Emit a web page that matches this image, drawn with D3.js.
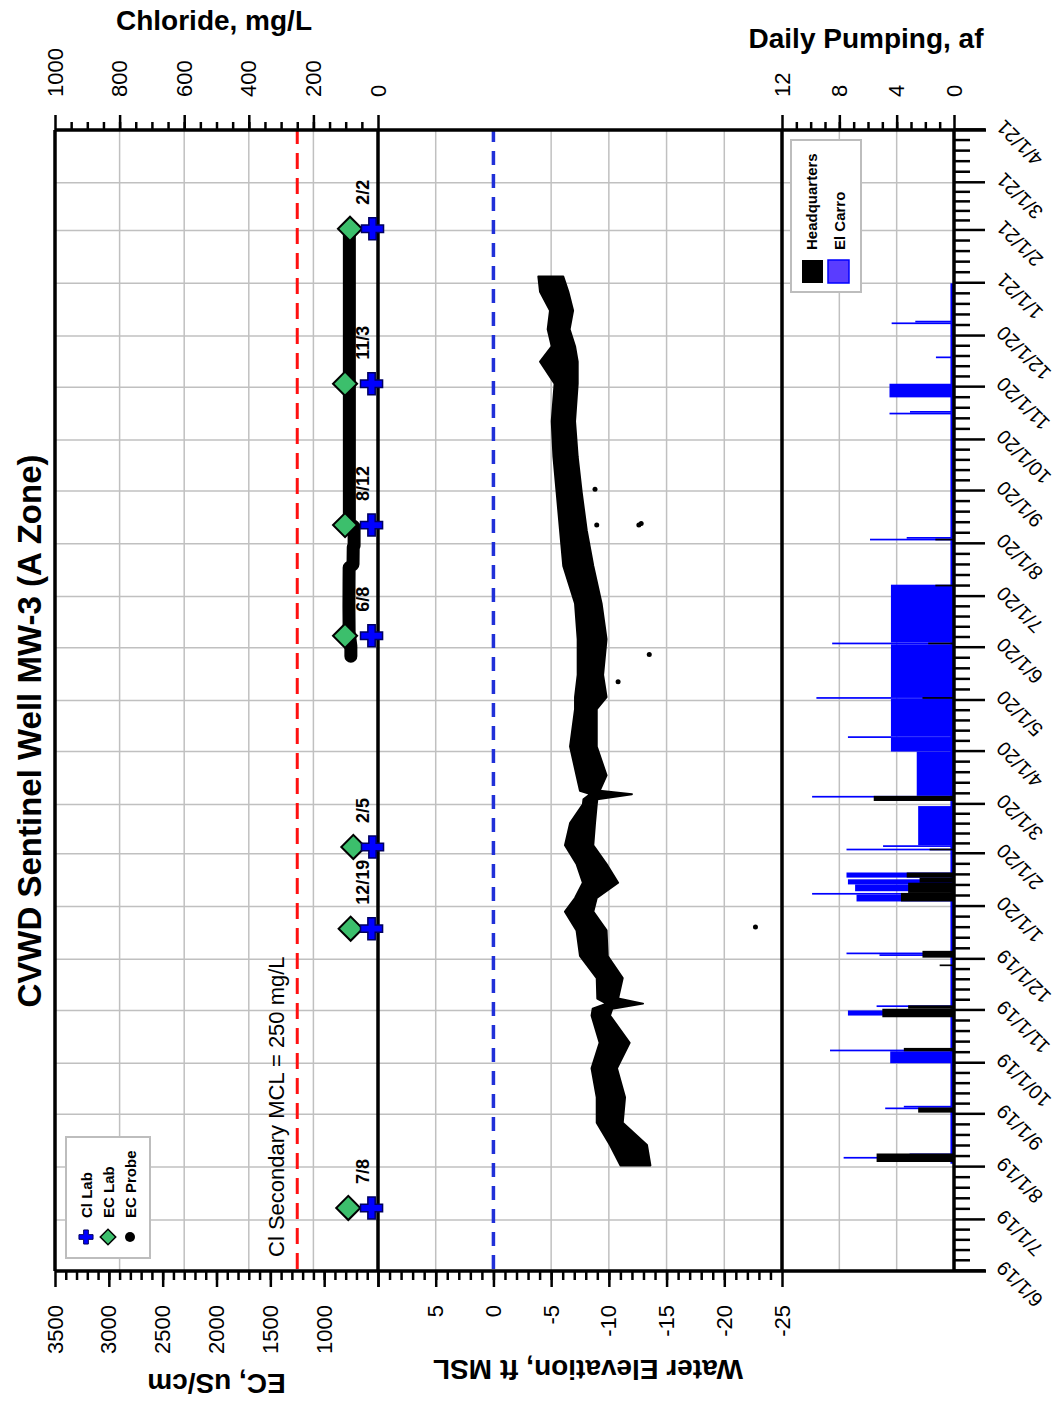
<!DOCTYPE html>
<html>
<head>
<meta charset="utf-8">
<script src="https://cdn.jsdelivr.net/npm/d3@7"></script>
<style>
  body { margin: 0; background: #fff; }
  svg { display: block; font-family: "Liberation Sans", Arial, sans-serif; }
</style>
</head>
<body>
<div id="chart"></div>
<script>
const parse = d3.utcParse("%Y-%m-%d");

// Lab samples (Cl and EC)
const labDates = ["2019-07-08", "2019-12-19", "2020-02-05", "2020-06-08", "2020-08-12", "2020-11-03", "2021-02-02"];
const labLabels = ["7/8", "12/19", "2/5", "6/8", "8/12", "11/3", "2/2"];
const ecLab = [776, 754, 729, 806, 806, 806, 760];
const clLab = [20, 20, 17, 20, 20, 20, 17];
const clMcl = 250;

// EC probe
const ecProbeDates = ["2020-05-27", "2020-06-02", "2020-06-10", "2020-06-25", "2020-07-10", "2020-07-18", "2020-07-20",
  "2020-07-30", "2020-07-31", "2020-08-11", "2020-08-13", "2020-09-15", "2020-10-15", "2020-11-15", "2020-12-15",
  "2021-01-15", "2021-01-31"];
const ecProbe = [752, 752, 768, 770, 769, 768, 732, 730, 722, 722, 766, 766, 766, 766, 766, 766, 766];

// Water elevation, daily high / low envelope
const wlDates = ["2019-08-02", "2019-08-14", "2019-08-27", "2019-09-11", "2019-09-28", "2019-10-13", "2019-10-29",
  "2019-11-02", "2019-11-05", "2019-11-08", "2019-11-20", "2019-12-03", "2019-12-18", "2019-12-29", "2020-01-06",
  "2020-01-15", "2020-01-26", "2020-02-06", "2020-02-19", "2020-03-01", "2020-03-04", "2020-03-07", "2020-03-09",
  "2020-03-18", "2020-04-04", "2020-04-26", "2020-05-03", "2020-05-16", "2020-06-06", "2020-06-27", "2020-07-19",
  "2020-08-09", "2020-08-31", "2020-09-21", "2020-10-12", "2020-11-03", "2020-11-16", "2020-11-25", "2020-12-05",
  "2020-12-16", "2020-12-27", "2021-01-05"];
const wlHigh = [-11.0, -10.1, -8.95, -8.95, -8.5, -9.2, -8.5, -8.6, -9.8, -9.0, -8.95, -7.5, -7.2, -6.2, -7.07,
  -7.75, -7.2, -6.2, -6.64, -7.75, -7.8, -8.4, -7.5, -7.2, -6.64, -7.07, -7.07, -7.3, -7.3, -7.07, -6.05,
  -5.77, -5.48, -5.2, -5.05, -5.3, -4.04, -5.05, -4.7, -4.9, -4.04, -3.89];
const wlLow = [-13.6, -13.3, -11.2, -11.4, -10.7, -11.8, -10.1, -10.3, -12.96, -10.8, -11.2, -9.9, -9.8, -8.65, -8.95,
  -10.8, -9.8, -8.65, -8.8, -8.95, -9.0, -12.0, -9.2, -9.8, -8.95, -8.95, -9.8, -9.5, -9.8, -9.37, -8.65,
  -8.08, -7.65, -7.3, -7.07, -7.3, -7.3, -7.07, -6.6, -6.9, -6.49, -6.05];
const wlOddDates = ["2020-09-02", "2020-08-12", "2020-08-12", "2020-08-13", "2020-05-28", "2020-05-12", "2019-12-20"];
const wlOdd = [-8.8, -8.95, -12.6, -12.8, -13.5, -10.8, -22.7];

// Daily pumping, af (periods of steady pumping: start, end, value)
const carroStart = ["2019-08-03", "2019-08-06", "2019-08-08", "2019-09-04", "2019-09-05", "2019-10-01", "2019-10-08",
  "2019-10-29", "2019-11-03", "2019-12-03", "2019-12-04", "2020-01-04", "2020-01-08", "2020-01-10", "2020-01-14",
  "2020-01-18", "2020-02-03", "2020-02-05", "2020-02-06", "2020-03-03", "2020-03-05", "2020-03-06", "2020-04-01",
  "2020-04-09", "2020-04-10", "2020-05-02", "2020-05-03", "2020-06-03", "2020-06-04", "2020-08-03", "2020-08-04",
  "2020-10-16", "2020-10-17", "2020-10-26", "2020-11-18", "2020-12-08", "2020-12-09"];
const carroEnd = ["2020-12-31", "2019-08-06", "2019-08-08", "2019-09-04", "2019-09-05", "2019-10-07", "2019-10-08",
  "2019-10-31", "2019-11-03", "2019-12-03", "2019-12-04", "2020-01-07", "2020-01-08", "2020-01-13", "2020-01-16",
  "2020-01-20", "2020-02-03", "2020-02-05", "2020-02-28", "2020-03-04", "2020-03-05", "2020-03-31", "2020-04-08",
  "2020-04-09", "2020-05-01", "2020-05-02", "2020-06-02", "2020-06-03", "2020-07-07", "2020-08-03", "2020-08-04",
  "2020-10-16", "2020-10-17", "2020-11-02", "2020-11-18", "2020-12-08", "2020-12-09"];
const carroAf = [0.25, 7.7, 3.1, 4.8, 3.5, 4.45, 8.65, 7.4, 5.4, 5.2, 7.5, 6.8, 9.9, 6.9, 7.4,
  7.5, 7.5, 4.95, 2.5, 5.0, 9.9, 2.6, 4.4, 7.4, 4.4, 9.6, 4.4, 8.5, 4.4, 5.86, 3.3,
  4.5, 3.07, 4.5, 1.26, 4.35, 2.7];

const hqStart = ["2019-08-04", "2019-09-02", "2019-10-08", "2019-10-28", "2019-11-02", "2019-11-27", "2019-12-02",
  "2020-01-04", "2020-01-09", "2020-01-15", "2020-01-18", "2020-02-03", "2020-03-03", "2020-05-02", "2020-06-03",
  "2020-07-07", "2020-08-03"];
const hqEnd = ["2019-08-08", "2019-09-04", "2019-10-09", "2019-11-01", "2019-11-03", "2019-11-27", "2019-12-05",
  "2020-01-08", "2020-01-14", "2020-01-17", "2020-01-20", "2020-02-03", "2020-03-05", "2020-05-02", "2020-06-03",
  "2020-07-07", "2020-08-03"];
const hqAf = [5.4, 2.5, 3.5, 5.0, 3.2, 1.0, 2.2, 3.7, 3.2, 2.4, 3.3, 1.7, 5.6, 2.2, 1.8, 1.3, 1.3];

// tick values
const ecTicks = d3.range(500, 3501, 500);
const wlTicks = d3.range(-25, 11, 5);
const clTicks = d3.range(0, 1001, 200);
const pumpTicks = d3.range(0, 13, 4);

const W = 1062, H = 1401;
const font = "'Liberation Sans', Arial, sans-serif";

const svg = d3.select("#chart").append("svg")
    .attr("width", W)
    .attr("height", H);
svg.append("rect").attr("width", W).attr("height", H).attr("fill", "#fff");

// the chart is laid out landscape (time across) and then turned a quarter to the left
const g = svg.append("g").attr("transform", `translate(0,${H}) rotate(-90)`);

const t0 = parse("2019-06-01"), t1 = parse("2021-04-01");
const x = d3.scaleUtc().domain([t0, t1]).range([130, 1271]);
const yEC = d3.scaleLinear().domain([500, 3500]).range([378, 55]);
const yCl = d3.scaleLinear().domain([0, 1000]).range([378, 55]);
const yWL = d3.scaleLinear().domain([-25, 10]).range([782, 378]);
const yPump = d3.scaleLinear().domain([0, 12]).range([954, 782]);

const months = d3.utcMonth.range(t0, d3.utcDay.offset(t1, 1));

// grid
const grid = g.append("g").attr("stroke", "#c0c0c0").attr("stroke-width", 1.5);
grid.selectAll(".mg").data(months.slice(1, -1)).join("line")
    .attr("x1", d => x(d)).attr("x2", d => x(d))
    .attr("y1", 55).attr("y2", 954);
const hGrid = [
    ...clTicks.slice(1, -1).map(v => yCl(v)),
    ...[-20, -15, -10, -5, 5].map(v => yWL(v)),
    ...[4, 8].map(v => yPump(v))
];
grid.selectAll(".vg").data(hGrid).join("line")
    .attr("x1", 130).attr("x2", 1271)
    .attr("y1", d => d).attr("y2", d => d);

// MCL line and zero elevation line
g.append("line")
    .attr("x1", 132).attr("x2", 1271)
    .attr("y1", yCl(clMcl)).attr("y2", yCl(clMcl))
    .attr("stroke", "#ff1010").attr("stroke-width", 3).attr("stroke-dasharray", "16,9");
g.append("line")
    .attr("x1", 132).attr("x2", 1271)
    .attr("y1", yWL(0)).attr("y2", yWL(0))
    .attr("stroke", "#2030d8").attr("stroke-width", 3.5).attr("stroke-dasharray", "14,9");
g.append("text")
    .attr("x", 144).attr("y", yCl(clMcl) - 13)
    .attr("font-size", 22).attr("font-family", font)
    .text("Cl Secondary MCL = 250 mg/L");

// pumping bars
function periods(starts, ends, vals) {
    return starts.map((s, i) => ({ s: parse(s), e: d3.utcDay.offset(parse(ends[i]), 1), v: vals[i] }));
}
function drawBars(data, color) {
    g.append("g").attr("fill", color)
        .selectAll("rect").data(data).join("rect")
        .attr("x", d => x(d.s))
        .attr("width", d => Math.max(1.7, x(d.e) - x(d.s)))
        .attr("y", d => yPump(d.v))
        .attr("height", d => yPump(0) - yPump(d.v));
}
drawBars(periods(carroStart, carroEnd, carroAf), "#0000ff");
drawBars(periods(hqStart, hqEnd, hqAf), "#000");

// water elevation band
const wl = wlDates.map((d, i) => ({ date: parse(d), hi: wlHigh[i], lo: wlLow[i] }));
g.append("path")
    .datum(wl)
    .attr("fill", "#000")
    .attr("stroke", "#000")
    .attr("stroke-width", 2)
    .attr("stroke-linejoin", "round")
    .attr("d", d3.area().x(d => x(d.date)).y0(d => yWL(d.lo)).y1(d => yWL(d.hi)));
g.append("g").selectAll("circle")
    .data(wlOddDates.map((d, i) => ({ date: parse(d), v: wlOdd[i] })))
    .join("circle")
    .attr("cx", d => x(d.date)).attr("cy", d => yWL(d.v))
    .attr("r", 2.5).attr("fill", "#000");

// EC probe
g.append("path")
    .datum(ecProbeDates.map((d, i) => ({ date: parse(d), v: ecProbe[i] })))
    .attr("fill", "none")
    .attr("stroke", "#000")
    .attr("stroke-width", 13)
    .attr("stroke-linecap", "round")
    .attr("stroke-linejoin", "round")
    .attr("d", d3.line().x(d => x(d.date)).y(d => yEC(d.v)));

// frame
const frame = g.append("g").attr("stroke", "#000").attr("stroke-width", 3.5);
[130, 1271].forEach(xx => frame.append("line").attr("x1", xx).attr("x2", xx).attr("y1", 55).attr("y2", 986));
[55, 378, 782, 954].forEach(yy => frame.append("line").attr("x1", 130).attr("x2", 1271).attr("y1", yy).attr("y2", yy));

// axes
function styleAxis(sel, size) {
    sel.attr("font-family", font).attr("font-size", size);
    sel.select(".domain").remove();
    sel.selectAll(".tick line").attr("stroke", "#000").attr("stroke-width", 2.5);
}
function minorAxis(axis, at, values, size) {
    g.append("g").attr("transform", at)
        .call(axis.tickValues(values).tickSize(size).tickFormat(""))
        .call(s => styleAxis(s, 10));
}

g.append("g").attr("transform", "translate(130,0)")
    .call(d3.axisLeft(yEC).tickValues(ecTicks).tickSize(16).tickPadding(18).tickFormat(d => d === 500 ? "" : d))
    .call(s => styleAxis(s, 22));
minorAxis(d3.axisLeft(yEC), "translate(130,0)", d3.range(600, 3500, 100), 9);
g.append("g").attr("transform", "translate(130,0)")
    .call(d3.axisLeft(yWL).tickValues(wlTicks).tickSize(16).tickPadding(18).tickFormat(d => d === 10 ? "" : d))
    .call(s => styleAxis(s, 22));
minorAxis(d3.axisLeft(yWL), "translate(130,0)", d3.range(-24, 10, 1), 9);

g.append("g").attr("transform", "translate(1271,0)")
    .call(d3.axisRight(yCl).tickValues(clTicks).tickSize(15).tickPadding(18).tickFormat(d3.format("d")))
    .call(s => styleAxis(s, 22));
minorAxis(d3.axisRight(yCl), "translate(1271,0)", d3.range(50, 1000, 50), 8);
g.append("g").attr("transform", "translate(1271,0)")
    .call(d3.axisRight(yPump).tickValues(pumpTicks).tickSize(15).tickPadding(18).tickFormat(d3.format("d")))
    .call(s => styleAxis(s, 22));
minorAxis(d3.axisRight(yPump), "translate(1271,0)", d3.range(1, 12, 1), 8);

const fmt = d3.utcFormat("%-m/%-d/%y");
const gx = g.append("g").attr("transform", "translate(0,954)")
    .call(d3.axisBottom(x).tickValues(months).tickSize(31).tickFormat(fmt))
    .call(s => styleAxis(s, 20));
gx.selectAll(".tick text")
    .attr("x", 0).attr("y", 0).attr("dy", "0.35em")
    .attr("text-anchor", "end")
    .attr("transform", "translate(6,46) rotate(-45)");
const minorDates = [];
months.slice(0, -1).forEach(m => {
    const next = d3.utcMonth.offset(m, 1);
    for (let k = 1; k < 5; k++) minorDates.push(new Date(+m + (next - m) * k / 5));
});
minorAxis(d3.axisBottom(x), "translate(0,954)", minorDates, 16);

// lab samples
const samples = labDates.map((d, i) => ({ date: parse(d), ec: ecLab[i], cl: clLab[i], label: labLabels[i] }));
g.append("g").selectAll("path").data(samples).join("path")
    .attr("transform", d => `translate(${x(d.date)},${yEC(d.ec)}) rotate(45)`)
    .attr("d", d3.symbol(d3.symbolSquare, 290))
    .attr("fill", "#3cbf6c").attr("stroke", "#000").attr("stroke-width", 2);
g.append("g").selectAll("path").data(samples).join("path")
    .attr("transform", d => `translate(${x(d.date)},${yCl(d.cl)})`)
    .attr("d", d3.symbol(d3.symbolCross, 270))
    .attr("fill", "#0000ff").attr("stroke", "#000060").attr("stroke-width", 1.5);
g.append("g").selectAll("text").data(samples).join("text")
    .attr("x", d => x(d.date) + 24).attr("y", 369)
    .attr("font-size", 18).attr("font-weight", "bold").attr("font-family", font)
    .text(d => d.label);

// legend, EC panel
const lg = g.append("g").attr("font-family", font).attr("font-size", 15).attr("font-weight", "bold");
lg.append("rect").attr("x", 143).attr("y", 66).attr("width", 121).attr("height", 84)
    .attr("fill", "#fff").attr("stroke", "#bdbdbd").attr("stroke-width", 2);
lg.append("path").attr("transform", "translate(164,86)").attr("d", d3.symbol(d3.symbolCross, 110))
    .attr("fill", "#0000ff").attr("stroke", "#000060").attr("stroke-width", 1);
lg.append("path").attr("transform", "translate(164,108) rotate(45)").attr("d", d3.symbol(d3.symbolSquare, 120))
    .attr("fill", "#3cbf6c").attr("stroke", "#000").attr("stroke-width", 1.5);
lg.append("circle").attr("cx", 164).attr("cy", 130).attr("r", 5).attr("fill", "#000");
[["Cl Lab", 92], ["EC Lab", 114], ["EC Probe", 136]].forEach(([t, yy]) =>
    lg.append("text").attr("x", 183).attr("y", yy).text(t));

// legend, pumping panel
const lp = g.append("g").attr("font-family", font).attr("font-size", 15).attr("font-weight", "bold");
lp.append("rect").attr("x", 1109).attr("y", 791).attr("width", 152).attr("height", 70)
    .attr("fill", "#fff").attr("stroke", "#bdbdbd").attr("stroke-width", 2);
lp.append("rect").attr("x", 1118).attr("y", 802).attr("width", 23).attr("height", 21).attr("fill", "#000");
lp.append("rect").attr("x", 1118).attr("y", 828).attr("width", 23).attr("height", 21)
    .attr("fill", "#5a3cff").attr("stroke", "#0000ff").attr("stroke-width", 1.5);
lp.append("text").attr("x", 1151).attr("y", 817).text("Headquarters");
lp.append("text").attr("x", 1151).attr("y", 845).text("El Carro");

// titles
const tt = g.append("g").attr("font-family", font).attr("font-weight", "bold").attr("fill", "#000");
tt.append("text").attr("x", 670).attr("y", 41).attr("text-anchor", "middle").attr("font-size", 33)
    .text("CVWD Sentinel Well MW-3 (A Zone)");
tt.append("text").attr("transform", `translate(27,${(55 + 378) / 2}) rotate(-90)`)
    .attr("text-anchor", "middle").attr("font-size", 28).text("EC, uS/cm");
tt.append("text").attr("transform", `translate(41,588) rotate(-90)`)
    .attr("text-anchor", "middle").attr("font-size", 28).text("Water Elevation, ft MSL");
tt.append("text").attr("transform", `translate(1371,214) rotate(90)`)
    .attr("text-anchor", "middle").attr("font-size", 28).text("Chloride, mg/L");
tt.append("text").attr("transform", `translate(1353,866) rotate(90)`)
    .attr("text-anchor", "middle").attr("font-size", 28).text("Daily Pumping, af");
</script>
</body>
</html>
